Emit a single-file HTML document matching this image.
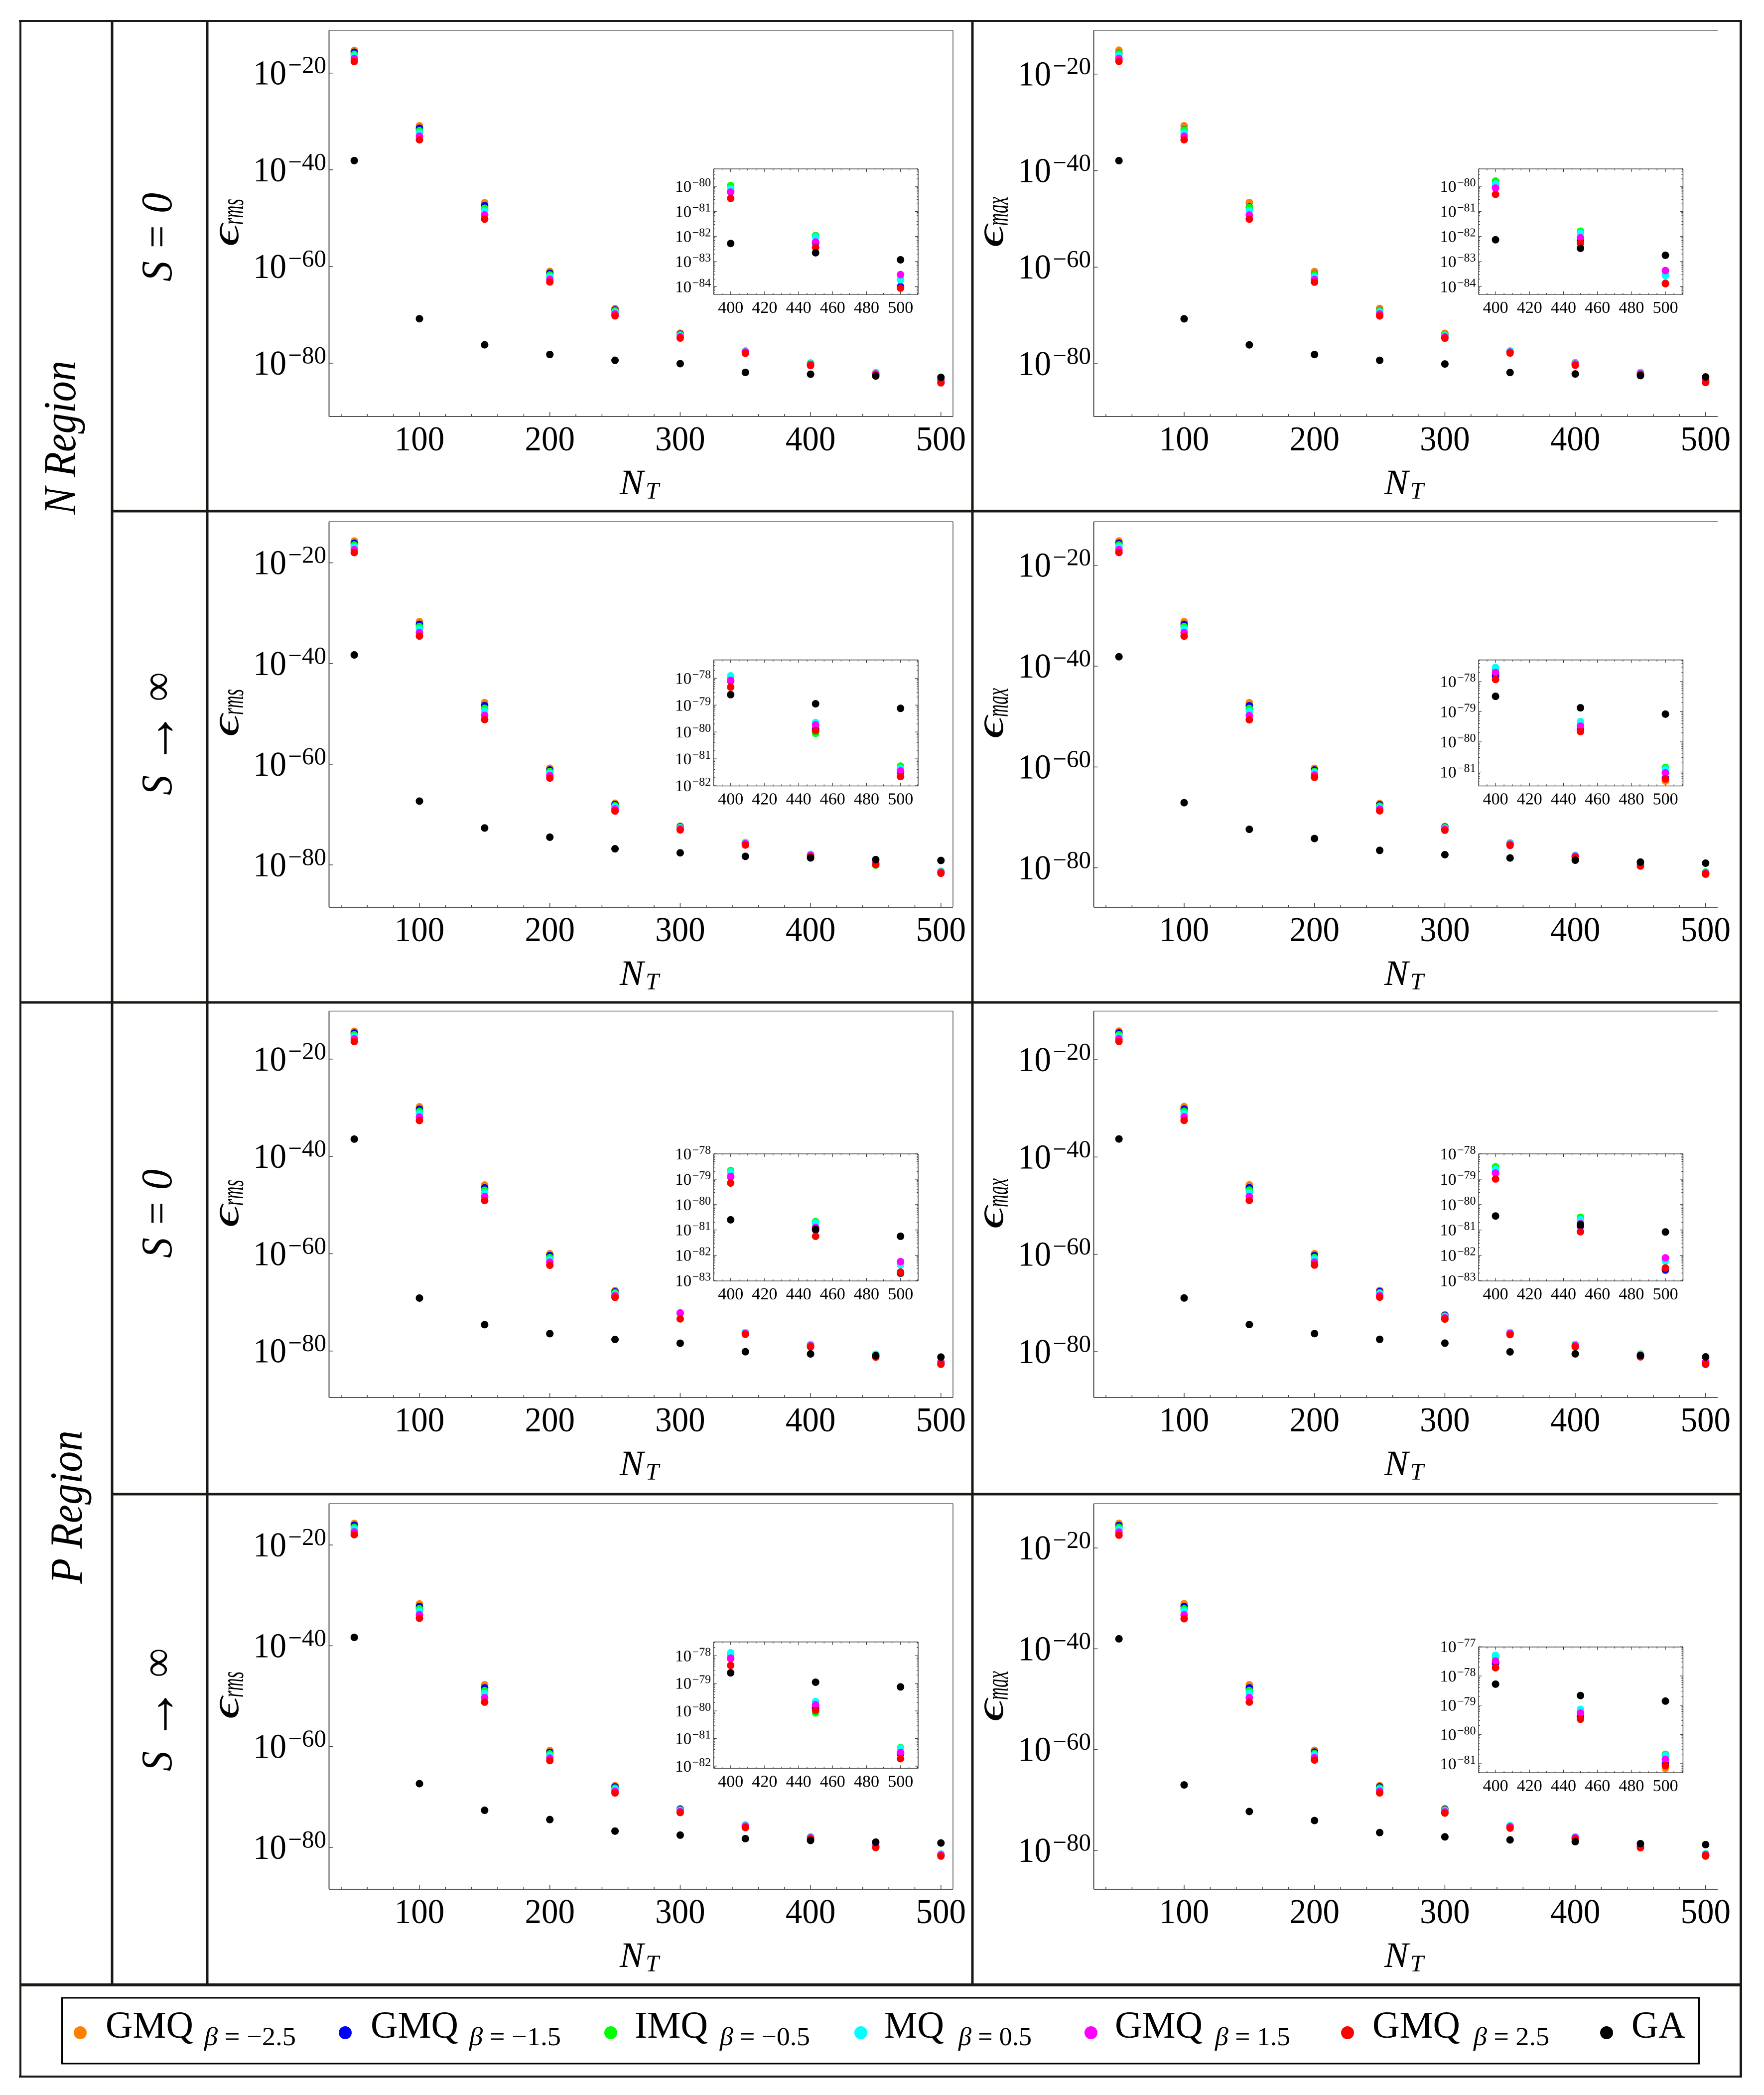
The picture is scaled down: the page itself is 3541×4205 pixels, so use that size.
<!DOCTYPE html>
<html lang="en">
<head>
<meta charset="utf-8">
<title>Error versus N_T for RBF families</title>
<style>
html,body{margin:0;padding:0;background:#fff;}
svg{display:block;}
text{font-family:"Liberation Serif","DejaVu Serif",serif;fill:#000;}
</style>
</head>
<body>
<svg id="figure" width="3541" height="4205" viewBox="0 0 3541 4205">
<rect x="0" y="0" width="3541" height="4205" fill="#fff"/>
<g id="plots"></g>
<g stroke="#1a1a14" fill="none">
<line x1="38" y1="42" x2="3497" y2="42" stroke-width="4"/>
<line x1="41" y1="40" x2="41" y2="4170" stroke-width="4"/>
<line x1="3494.5" y1="40" x2="3494.5" y2="4170" stroke-width="5"/>
<line x1="38" y1="4168" x2="3497" y2="4168" stroke-width="4"/>
<line x1="225" y1="42" x2="225" y2="3984" stroke-width="5"/>
<line x1="416" y1="42" x2="416" y2="3984" stroke-width="5"/>
<line x1="1952" y1="42" x2="1952" y2="3984" stroke-width="5"/>
<line x1="225" y1="1026" x2="3494" y2="1026" stroke-width="5"/>
<line x1="41" y1="2012" x2="3494" y2="2012" stroke-width="5"/>
<line x1="225" y1="2999" x2="3494" y2="2999" stroke-width="5"/>
<line x1="41" y1="3984" x2="3494" y2="3984" stroke-width="6"/>
</g>
<text transform="translate(151,1033) rotate(-90)" font-size="92" font-style="italic" textLength="309" lengthAdjust="spacingAndGlyphs">N Region</text>
<text transform="translate(164,3179) rotate(-90)" font-size="92" font-style="italic" textLength="308" lengthAdjust="spacingAndGlyphs">P Region</text>
<text transform="translate(344,565) rotate(-90)" font-size="88" font-style="italic" textLength="178" lengthAdjust="spacingAndGlyphs">S = 0</text>
<text transform="translate(344,1596) rotate(-90)" font-size="88" font-style="italic" textLength="246" lengthAdjust="spacingAndGlyphs">S <tspan font-size="120" dy="8">→</tspan><tspan dy="-8"> ∞</tspan></text>
<text transform="translate(344,2525) rotate(-90)" font-size="88" font-style="italic" textLength="178" lengthAdjust="spacingAndGlyphs">S = 0</text>
<text transform="translate(344,3555) rotate(-90)" font-size="88" font-style="italic" textLength="246" lengthAdjust="spacingAndGlyphs">S <tspan font-size="120" dy="8">→</tspan><tspan dy="-8"> ∞</tspan></text>
<g>
<rect x="124.5" y="4010" width="3286" height="132" fill="#fff" stroke="#000" stroke-width="3"/>
<g>
<circle cx="161" cy="4080" r="13" fill="#ff8000"/>
<text x="212" y="4090" font-size="76" textLength="176" lengthAdjust="spacingAndGlyphs">GMQ</text>
<text x="410" y="4105" font-size="52" textLength="184" lengthAdjust="spacingAndGlyphs"><tspan font-style="italic">β</tspan> = −2.5</text>
</g>
<g>
<circle cx="693" cy="4080" r="13" fill="#0000ff"/>
<text x="744" y="4090" font-size="76" textLength="176" lengthAdjust="spacingAndGlyphs">GMQ</text>
<text x="942" y="4105" font-size="52" textLength="184" lengthAdjust="spacingAndGlyphs"><tspan font-style="italic">β</tspan> = −1.5</text>
</g>
<g>
<circle cx="1226" cy="4080" r="13" fill="#00ff00"/>
<text x="1274" y="4090" font-size="76" textLength="147" lengthAdjust="spacingAndGlyphs">IMQ</text>
<text x="1445" y="4105" font-size="52" textLength="181" lengthAdjust="spacingAndGlyphs"><tspan font-style="italic">β</tspan> = −0.5</text>
</g>
<g>
<circle cx="1728" cy="4080" r="13" fill="#00ffff"/>
<text x="1775" y="4090" font-size="76" textLength="120" lengthAdjust="spacingAndGlyphs">MQ</text>
<text x="1924" y="4105" font-size="52" textLength="147" lengthAdjust="spacingAndGlyphs"><tspan font-style="italic">β</tspan> = 0.5</text>
</g>
<g>
<circle cx="2190" cy="4080" r="13" fill="#ff00ff"/>
<text x="2238" y="4090" font-size="76" textLength="176" lengthAdjust="spacingAndGlyphs">GMQ</text>
<text x="2439" y="4105" font-size="52" textLength="151" lengthAdjust="spacingAndGlyphs"><tspan font-style="italic">β</tspan> = 1.5</text>
</g>
<g>
<circle cx="2705" cy="4080" r="13" fill="#ff0000"/>
<text x="2755" y="4090" font-size="76" textLength="176" lengthAdjust="spacingAndGlyphs">GMQ</text>
<text x="2958" y="4105" font-size="52" textLength="152" lengthAdjust="spacingAndGlyphs"><tspan font-style="italic">β</tspan> = 2.5</text>
</g>
<g>
<circle cx="3225" cy="4080" r="13" fill="#000"/>
<text x="3275" y="4090" font-size="76" textLength="108" lengthAdjust="spacingAndGlyphs">GA</text>
</g>
</g>
</svg>
<script>
// Shared axis data
const nValues = [50,100,150,200,250,300,350,400,450,500];
const mainXTickLabels = [100,200,300,400,500];
const mainYTickExponents = [-20,-40,-60,-80];
const insetXTickLabels = [400,420,440,460,480,500];
const seriesColors = ['#ff8000','#0000ff','#00ff00','#00ffff','#ff00ff','#ff0000','#000000'];
const seriesNames = ['gmq-minus-2-5','gmq-minus-1-5','imq-minus-0-5','mq-0-5','gmq-1-5','gmq-2-5','ga'];

// Panel 1: N region, S=0, rms (log10 error)
const p1Orange = [-15.3,-30.9,-46.8,-61.0,-68.7,-73.8,-77.6,-80.2,-82.25,-84.0];
const p1Blue = [-15.7,-31.4,-47.4,-61.4,-69.0,-74.0,-77.6,-80.2,-82.26,-84.0];
const p1Green = [-16.1,-31.9,-47.95,-61.75,-69.2,-74.15,-77.55,-79.97,-81.96,-83.7];
const p1Cyan = [-16.45,-32.35,-48.5,-62.1,-69.45,-74.3,-77.45,-80.09,-82.02,-83.73];
const p1Magenta = [-17.0,-33.05,-49.35,-62.65,-69.8,-74.55,-77.7,-80.23,-82.22,-83.52];
const p1Red = [-17.6,-33.8,-50.2,-63.2,-70.2,-74.8,-77.95,-80.48,-82.44,-84.06];
const p1Black = [-38.1,-70.8,-76.2,-78.2,-79.4,-80.1,-81.9,-82.28,-82.65,-82.93];
const p1InsetTicks = [-80,-81,-82,-83,-84];

// Panel 2: N region, S=0, max
const p2Orange = [-15.05,-30.7,-46.6,-60.9,-68.55,-73.7,-77.5,-80.02,-82.14,-83.86];
const p2Blue = [-15.7,-31.5,-47.55,-61.5,-68.95,-74.0,-77.5,-80.05,-82.14,-83.88];
const p2Green = [-15.75,-31.55,-47.65,-61.55,-69.0,-74.0,-77.45,-79.79,-81.79,-83.53];
const p2Cyan = [-16.15,-32.1,-48.25,-61.95,-69.3,-74.2,-77.35,-79.91,-81.86,-83.56];
const p2Magenta = [-16.75,-32.85,-49.2,-62.55,-69.7,-74.45,-77.6,-80.07,-82.05,-83.36];
const p2Red = [-17.35,-33.6,-50.05,-63.1,-70.1,-74.7,-77.8,-80.32,-82.27,-83.88];
const p2Black = [-37.94,-70.7,-76.1,-78.1,-79.3,-80.06,-81.83,-82.13,-82.47,-82.75];
const p2InsetTicks = [-80,-81,-82,-83,-84];

// Panel 3: N region, S to infinity, rms
const p3Orange = [-15.67,-31.66,-47.75,-60.8,-67.75,-72.3,-75.7,-78.1,-79.9,-81.5];
const p3Blue = [-16.1,-32.2,-48.35,-61.15,-68.0,-72.45,-75.7,-78.1,-79.9,-81.5];
const p3Green = [-16.45,-32.65,-48.9,-61.45,-68.25,-72.55,-75.55,-77.95,-80.05,-81.27];
const p3Cyan = [-16.8,-33.1,-49.45,-61.8,-68.5,-72.65,-75.6,-77.91,-79.65,-81.35];
const p3Magenta = [-17.4,-33.85,-50.3,-62.25,-68.9,-72.85,-75.8,-78.08,-79.74,-81.45];
const p3Red = [-17.96,-34.55,-51.14,-62.75,-69.3,-73.05,-76.05,-78.33,-79.95,-81.66];
const p3Black = [-38.29,-67.33,-72.67,-74.5,-76.8,-77.6,-78.3,-78.61,-78.95,-79.12];
const p3InsetTicks = [-78,-79,-80,-81,-82];

// Panel 4: N region, S to infinity, max
const p4Orange = [-15.17,-31.16,-47.25,-60.26,-67.25,-71.8,-75.2,-77.85,-79.6,-81.3];
const p4Blue = [-15.6,-31.7,-47.85,-60.6,-67.5,-71.95,-75.2,-77.8,-79.6,-81.2];
const p4Green = [-15.95,-32.15,-48.4,-60.9,-67.75,-72.05,-75.05,-77.6,-79.4,-80.85];
const p4Cyan = [-16.3,-32.6,-48.95,-61.15,-68.0,-72.15,-75.1,-77.53,-79.33,-80.91];
const p4Magenta = [-16.9,-33.35,-49.8,-61.6,-68.35,-72.35,-75.3,-77.7,-79.48,-81.03];
const p4Red = [-17.46,-34.05,-50.64,-62.05,-68.7,-72.55,-75.55,-77.93,-79.66,-81.23];
const p4Black = [-38.14,-67.09,-72.37,-74.2,-76.55,-77.4,-78.05,-78.49,-78.87,-79.08];
const p4InsetTicks = [-78,-79,-80,-81];

// Panel 5: P region, S=0, rms
const p5Orange = [-14.28,-29.8,-45.88,-60.0,-67.58,-72.3,-76.35,-78.9,-81.0,-82.72];
const p5Blue = [-14.65,-30.3,-46.45,-60.4,-67.85,-72.3,-76.35,-78.9,-81.0,-82.7];
const p5Green = [-15.0,-30.75,-46.95,-60.8,-68.05,-72.3,-76.25,-78.66,-80.67,-82.35];
const p5Cyan = [-15.35,-31.2,-47.45,-61.2,-68.3,-72.25,-76.2,-78.71,-80.72,-82.38];
const p5Magenta = [-15.85,-31.9,-48.25,-61.75,-68.6,-72.16,-76.4,-78.89,-80.9,-82.25];
const p5Red = [-16.39,-32.63,-49.07,-62.37,-68.97,-73.4,-76.55,-79.15,-81.25,-82.66];
const p5Black = [-36.44,-69.12,-74.59,-76.44,-77.63,-78.4,-80.15,-80.6,-80.97,-81.25];
const p5InsetTicks = [-78,-79,-80,-81,-82,-83];

// Panel 6: P region, S=0, max
const p6Orange = [-14.12,-29.64,-45.72,-59.85,-67.42,-72.42,-76.2,-78.75,-80.85,-82.6];
const p6Blue = [-14.5,-30.15,-46.3,-60.25,-67.65,-72.55,-76.2,-78.75,-80.85,-82.57];
const p6Green = [-14.85,-30.6,-46.8,-60.65,-67.9,-72.7,-76.1,-78.51,-80.5,-82.2];
const p6Cyan = [-15.2,-31.05,-47.3,-61.0,-68.1,-72.8,-76.03,-78.61,-80.59,-82.23];
const p6Magenta = [-15.7,-31.75,-48.1,-61.6,-68.45,-73.05,-76.25,-78.76,-80.75,-82.1];
const p6Red = [-16.24,-32.47,-48.92,-62.2,-68.81,-73.3,-76.5,-78.99,-81.07,-82.5];
const p6Black = [-36.29,-68.97,-74.43,-76.29,-77.47,-78.25,-80.05,-80.45,-80.79,-81.08];
const p6InsetTicks = [-78,-79,-80,-81,-82,-83];

// Panel 7: P region, S to infinity, rms
const p7Orange = [-15.72,-31.7,-47.74,-60.79,-67.76,-72.34,-75.7,-78.1,-79.9,-81.55];
const p7Blue = [-16.1,-32.2,-48.35,-61.15,-68.0,-72.45,-75.7,-78.1,-79.9,-81.55];
const p7Green = [-16.5,-32.65,-48.9,-61.45,-68.25,-72.6,-75.6,-77.95,-80.07,-81.33];
const p7Cyan = [-16.85,-33.1,-49.45,-61.8,-68.5,-72.7,-75.53,-77.89,-79.66,-81.35];
const p7Magenta = [-17.4,-33.85,-50.3,-62.3,-68.85,-72.9,-75.8,-78.09,-79.78,-81.51];
const p7Red = [-17.96,-34.54,-51.18,-62.78,-69.2,-73.09,-76.07,-78.35,-79.98,-81.73];
const p7Black = [-38.33,-67.36,-72.64,-74.48,-76.77,-77.57,-78.27,-78.62,-78.96,-79.13];
const p7InsetTicks = [-78,-79,-80,-81,-82];

// Panel 8: P region, S to infinity, max
const p8Orange = [-15.12,-31.06,-47.14,-60.14,-67.16,-71.74,-75.2,-77.6,-79.4,-81.16];
const p8Blue = [-15.55,-31.6,-47.75,-60.5,-67.4,-71.9,-75.2,-77.55,-79.4,-81.0];
const p8Green = [-15.9,-32.1,-48.3,-60.8,-67.65,-72.0,-75.12,-77.35,-79.2,-80.68];
const p8Cyan = [-16.3,-32.5,-48.8,-61.1,-67.9,-72.15,-75.08,-77.29,-79.14,-80.73];
const p8Magenta = [-16.85,-33.3,-49.7,-61.6,-68.25,-72.35,-75.3,-77.49,-79.27,-80.85];
const p8Red = [-17.46,-34.04,-50.58,-62.08,-68.6,-72.59,-75.58,-77.72,-79.48,-81.07];
const p8Black = [-38.03,-67.01,-72.29,-74.08,-76.47,-77.32,-77.92,-78.28,-78.67,-78.86];
const p8InsetTicks = [-77,-78,-79,-80,-81];

const root = document.getElementById('figure');
const NS = root.namespaceURI;
const plots = document.getElementById('plots');

function node(tag, parent, attrs) {
  const e = document.createElementNS(NS, tag);
  for (const k in attrs) e.setAttribute(k, attrs[k]);
  parent.appendChild(e);
  return e;
}
function line(parent, x1, y1, x2, y2, stroke, w) {
  return node('line', parent, {x1:x1, y1:y1, x2:x2, y2:y2, stroke:stroke, 'stroke-width':w});
}
function label(parent, str, attrs) {
  const t = node('text', parent, attrs);
  t.textContent = str;
  return t;
}

const MINUS = '\u2212';
const X_PER_UNIT = 2.617;
const INSET_X_PER_UNIT = 3.41;

const panels = [
 {id:'n-s0-rms', col:0, top:61, bottom:836, y20:146.7, y80:729, labelY:495, sub:'rms', iTop:339, iBottom:591, iRef:374, iDec:50.33, ticks:p1InsetTicks, s:[p1Orange,p1Blue,p1Green,p1Cyan,p1Magenta,p1Red,p1Black]},
 {id:'n-s0-max', col:1, top:61, bottom:836, y20:148.7, y80:730, labelY:497, sub:'max', iTop:339, iBottom:591, iRef:374, iDec:50.33, ticks:p2InsetTicks, s:[p2Orange,p2Blue,p2Green,p2Cyan,p2Magenta,p2Red,p2Black]},
 {id:'n-sinf-rms', col:0, top:1047, bottom:1821, y20:1129.7, y80:1736, labelY:1479, sub:'rms', iTop:1324.6, iBottom:1577.5, iRef:1361.4, iDec:53.9, ticks:p3InsetTicks, s:[p3Orange,p3Blue,p3Green,p3Cyan,p3Magenta,p3Red,p3Black]},
 {id:'n-sinf-max', col:1, top:1047, bottom:1821, y20:1134.7, y80:1741.8, labelY:1483, sub:'max', iTop:1324.6, iBottom:1577.5, iRef:1368, iDec:60.5, ticks:p4InsetTicks, s:[p4Orange,p4Blue,p4Green,p4Cyan,p4Magenta,p4Red,p4Black]},
 {id:'p-s0-rms', col:0, top:2029.5, bottom:2805, y20:2125.8, y80:2711.7, labelY:2464, sub:'rms', iTop:2316, iBottom:2571, iRef:2316, iDec:50.9, ticks:p5InsetTicks, s:[p5Orange,p5Blue,p5Green,p5Cyan,p5Magenta,p5Red,p5Black]},
 {id:'p-s0-max', col:1, top:2029.5, bottom:2805, y20:2127, y80:2713, labelY:2467, sub:'max', iTop:2316, iBottom:2571, iRef:2316, iDec:50.9, ticks:p6InsetTicks, s:[p6Orange,p6Blue,p6Green,p6Cyan,p6Magenta,p6Red,p6Black]},
 {id:'p-sinf-rms', col:0, top:3018, bottom:3792, y20:3101, y80:3708, labelY:3451, sub:'rms', iTop:3295.6, iBottom:3549.5, iRef:3323.3, iDec:55.4, ticks:p7InsetTicks, s:[p7Orange,p7Blue,p7Green,p7Cyan,p7Magenta,p7Red,p7Black]},
 {id:'p-sinf-max', col:1, top:3018, bottom:3792, y20:3107, y80:3714, labelY:3456, sub:'max', iTop:3305.7, iBottom:3558, iRef:3305.2, iDec:58.7, ticks:p8InsetTicks, s:[p8Orange,p8Blue,p8Green,p8Cyan,p8Magenta,p8Red,p8Black]}
];

panels.forEach(function (p) {
  const dx = p.col * 1535;
  const left = 660.5 + dx, right = 1913 + dx, x100 = 842 + dx;
  const xOf = function (n) { return x100 + (n - 100) * X_PER_UNIT; };
  const yOf = function (e) { return p.y20 + (-20 - e) * (p.y80 - p.y20) / 60; };

  const g = node('g', plots, {});
  
  

  const frame = node('g', g, {});
  
  
  line(frame, left, p.top, right, p.top, '#666', 1.5);
  if (p.col === 0) line(frame, right, p.top, right, p.bottom, '#222', 1.2);
  line(frame, left, p.top, left, p.bottom, '#444', 2);
  line(frame, left, p.bottom, right, p.bottom, '#555', 2);

  const xAxis = node('g', g, {});
  
  
  for (let n = 40; n <= 500; n += 20) {
    const major = n % 100 === 0;
    line(xAxis, xOf(n), p.bottom, xOf(n), p.bottom - (major ? 9 : 5), '#444', 1.5);
  }
  mainXTickLabels.forEach(function (v) {
    const t = label(xAxis, String(v), {transform:'translate(' + xOf(v) + ',' + (p.bottom + 68) + ') scale(1,1.04)', 'text-anchor':'middle', 'font-size':67});
    
    
  });

  const xTitle = node('g', g, {});
  
  
  label(xTitle, 'N', {x:1244 + dx, y:p.bottom + 156, 'font-size':72, 'font-style':'italic'});
  label(xTitle, 'T', {x:1296 + dx, y:p.bottom + 165, 'font-size':48, 'font-style':'italic'});

  const yAxis = node('g', g, {});
  
  
  mainYTickExponents.forEach(function (e) {
    const y = yOf(e);
    line(yAxis, left, y, left + 8, y, '#444', 1.5);
    const b = label(yAxis, '10', {transform:'translate(' + (575 + dx) + ',' + (y + 23) + ') scale(1,1.04)', 'text-anchor':'end', 'font-size':67});
    
    
    const x = label(yAxis, MINUS + Math.abs(e), {x:655 + dx, y:y, 'text-anchor':'end', 'font-size':49});
    
    
  });

  const yTitle = node('g', g, {});
  
  
  label(yTitle, '\u03F5', {transform:'translate(' + (478 + dx) + ',' + p.labelY + ') rotate(-90)', 'font-size':78, 'font-style':'italic', textLength:45, lengthAdjust:'spacingAndGlyphs'});
  label(yTitle, p.sub, {transform:'translate(' + (488 + dx) + ',' + (p.labelY - 44) + ') rotate(-90)', 'font-size':64, 'font-style':'italic', textLength:p.sub === 'rms' ? 52 : 58, lengthAdjust:'spacingAndGlyphs'});

  const marks = node('g', g, {});
  
  
  p.s.forEach(function (vals, si) {
    vals.forEach(function (v, i) {
      const c = node('circle', marks, {cx:xOf(nValues[i]), cy:yOf(v), r:7.5, fill:seriesColors[si]});
      
      
    });
  });

  // Inset: zoom on the last three N_T values
  const iLeft = 1432.6 + p.col * 1535.4, iRight = iLeft + 410.4;
  const ix = function (n) { return iLeft + (n - 390) * INSET_X_PER_UNIT; };
  const iy = function (e) { return p.iRef + (p.ticks[0] - e) * p.iDec; };

  const inset = node('g', g, {});
  
  
  line(inset, iLeft, p.iTop, iRight, p.iTop, '#777', 2);
  line(inset, iRight, p.iTop, iRight, p.iBottom, '#333', 1.5);
  line(inset, iLeft, p.iTop, iLeft, p.iBottom, '#444', 1.5);
  line(inset, iLeft, p.iBottom, iRight, p.iBottom, '#555', 1.5);

  for (let n = 390; n <= 510; n += 5) {
    const len = n % 20 === 0 ? 6 : 3;
    line(inset, ix(n), p.iBottom, ix(n), p.iBottom - len, '#333', 1.2);
    line(inset, ix(n), p.iTop, ix(n), p.iTop + len, '#333', 1.2);
  }
  insetXTickLabels.forEach(function (v) {
    const t = label(inset, String(v), {x:ix(v), y:p.iBottom + 37, 'text-anchor':'middle', 'font-size':34});
    
    
  });

  const firstDecade = p.ticks[0] + 1;
  const lastDecade = p.ticks[p.ticks.length - 1] - 1;
  for (let d = lastDecade; d <= firstDecade; d++) {
    for (let m = 1; m <= 9; m++) {
      const e = d + Math.log10(m);
      const y = iy(e);
      if (y < p.iTop - 0.5 || y > p.iBottom + 0.5) continue;
      const len = m === 1 ? 6 : 3;
      line(inset, iLeft, y, iLeft + len, y, '#333', 1.2);
      line(inset, iRight, y, iRight - len, y, '#333', 1.2);
    }
  }
  p.ticks.forEach(function (e) {
    const y = iy(e);
    const b = label(inset, '10', {x:iLeft - 44.5, y:y + 11, 'text-anchor':'end', 'font-size':33});
    
    
    const x = label(inset, MINUS + Math.abs(e), {x:iLeft - 5.5, y:y, 'text-anchor':'end', 'font-size':24});
    
    
  });

  p.s.forEach(function (vals, si) {
    vals.forEach(function (v, i) {
      if (nValues[i] < 400) return;
      const c = node('circle', inset, {cx:ix(nValues[i]), cy:iy(v), r:7.5, fill:seriesColors[si]});
      
      
    });
  });
});
</script>
</body>
</html>
